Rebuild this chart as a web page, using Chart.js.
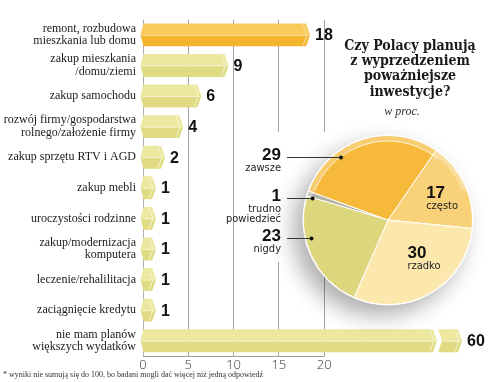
<!DOCTYPE html>
<html><head><meta charset="utf-8">
<script src="https://cdn.jsdelivr.net/npm/chart.js@4.4.0/dist/chart.umd.min.js"></script>
<style>
html,body{margin:0;padding:0;background:#fff;}
#wrap{position:relative;width:500px;height:382px;overflow:hidden;background:#fff;}
#bar{position:absolute;left:0;top:0;}
#pie{position:absolute;left:220px;top:0;}
</style></head><body>
<div id="wrap"><canvas id="bar" width="500" height="382"></canvas><canvas id="pie" width="280" height="382"></canvas></div>
<script>
// ---------- data ----------
const categories = [
  ['remont, rozbudowa','mieszkania lub domu'],
  ['zakup mieszkania','/domu/ziemi'],
  'zakup samochodu',
  ['rozwój firmy/gospodarstwa','rolnego/założenie firmy'],
  'zakup sprzętu RTV i AGD',
  'zakup mebli',
  'uroczystości rodzinne',
  ['zakup/modernizacja','komputera'],
  'leczenie/rehalilitacja',
  'zaciągnięcie kredytu',
  ['nie mam planów','większych wydatków']
];
const values = [18, 9, 6, 4, 2, 1, 1, 1, 1, 1, 60];
const xTickLabels = [0, 5, 10, 15, 20];
const footnote = '* wyniki nie sumują się do 100, bo badani mogli dać więcej niż jedną odpowiedź';

const pieNames = ['często', 'rzadko', 'nigdy', ['trudno','powiedzieć'], 'zawsze'];
const pieValues = [17, 30, 23, 1, 29];
const pieTitle = ['Czy Polacy planują', 'z wyprzedzeniem', 'poważniejsze', 'inwestycje?'];
const pieSubtitle = 'w proc.';

// ---------- styles ----------
const barPal = {
  hi: {top:'#f8ca5c', bottom:'#f4b52f', ridge:'#fbe0a2'},
  lo: {top:'#ece89f', bottom:'#e0db83', ridge:'#f6f3cf'}
};
const pieColors = ['#f9d178', '#fce8ad', '#dcd67d', '#b4b3a6', '#f6b93a'];
const outerLabels = { 2: 238, 3: 198, 4: 157 }; // leader line y (page px) for slices labelled outside
const SERIF = '"Liberation Serif", "DejaVu Serif", serif';
const SANS = '"Liberation Sans", Arial, sans-serif';

Chart.defaults.animation = false;
Chart.defaults.font.family = SANS;

function drawPrism(ctx, x0, x1, y, h, c, notch, cap) {
  const lx = notch ? x0 + cap : x0 - 3;
  ctx.beginPath(); ctx.moveTo(lx, y); ctx.lineTo(x0, y - h); ctx.lineTo(x1, y - h); ctx.lineTo(x1 + cap, y); ctx.closePath();
  ctx.fillStyle = c.top; ctx.fill();
  ctx.beginPath(); ctx.moveTo(lx, y); ctx.lineTo(x0, y + h); ctx.lineTo(x1, y + h); ctx.lineTo(x1 + cap, y); ctx.closePath();
  ctx.fillStyle = c.bottom; ctx.fill();
  ctx.strokeStyle = c.ridge; ctx.lineWidth = 1;
  ctx.beginPath(); ctx.moveTo(lx + 1, y + 0.5); ctx.lineTo(x1 + cap - 1, y + 0.5); ctx.stroke();
  ctx.beginPath(); ctx.moveTo(x1 - 3, y - h + 1); ctx.lineTo(x1 - 3 + cap, y); ctx.lineTo(x1 - 3, y + h - 1); ctx.stroke();
}

const prismPlugin = {
  id: 'prism',
  beforeDatasetsDraw(chart) {
    const ctx = chart.ctx, a = chart.chartArea, xs = chart.scales.x;
    ctx.save();
    ctx.strokeStyle = '#9d9d9d'; ctx.lineWidth = 1;
    ctx.beginPath();
    ctx.moveTo(xs.getPixelForValue(0), Math.round(a.bottom) + 0.5);
    ctx.lineTo(xs.getPixelForValue(xTickLabels[xTickLabels.length - 1]) + 0.5, Math.round(a.bottom) + 0.5);
    ctx.stroke();
    ctx.restore();
  },
  afterDatasetsDraw(chart) {
    const ctx = chart.ctx, a = chart.chartArea, meta = chart.getDatasetMeta(0);
    const cap = 4;
    ctx.save();
    meta.data.forEach((el, i) => {
      const p = el.getProps(['x', 'y', 'base', 'height'], true);
      const h = p.height / 2, y = p.y, x0 = p.base;
      const pal = i === 0 ? barPal.hi : barPal.lo;
      let x1 = p.x;
      if (x1 > a.right - cap) {
        const end = a.right - cap + 2;
        const segStart = end - 20;
        drawPrism(ctx, x0, segStart - 5, y, h, pal, false, cap);
        drawPrism(ctx, segStart, end, y, h, pal, true, cap);
        x1 = end;
      } else {
        drawPrism(ctx, x0, x1, y, h, pal, false, cap);
      }
      ctx.fillStyle = '#111';
      ctx.font = 'bold 16px ' + SANS;
      ctx.textAlign = 'left'; ctx.textBaseline = 'middle';
      ctx.fillText(String(values[i]), x1 + cap + 5, y + 1);
    });
    ctx.restore();
  },
  afterDraw(chart) {
    const ctx = chart.ctx;
    ctx.save();
    ctx.fillStyle = '#333';
    ctx.font = '8px ' + SERIF;
    ctx.textAlign = 'left'; ctx.textBaseline = 'middle';
    ctx.fillText(footnote, 3, 375);
    ctx.restore();
  }
};

new Chart(document.getElementById('bar'), {
  type: 'bar',
  data: { labels: categories, datasets: [{ data: values, backgroundColor: 'rgba(0,0,0,0)', borderWidth: 0, barPercentage: 0.75, categoryPercentage: 1 }] },
  options: {
    responsive: false, indexAxis: 'y',
    layout: { padding: { left: 0, right: 40, top: 9, bottom: 0 } },
    plugins: { legend: { display: false }, tooltip: { enabled: false } },
    scales: {
      x: {
        type: 'linear', min: 0, max: 35,
        afterFit: s => { s.height = 26; },
        border: { display: false },
        grid: {
          drawTicks: false, lineWidth: 1,
          color: c => {
            const v = c.tick ? c.tick.value : -1;
            if (v === 0) return '#b0b0b0';
            return xTickLabels.includes(v) ? '#a3a3a3' : 'rgba(0,0,0,0)';
          }
        },
        ticks: {
          stepSize: 5, autoSkip: false, padding: 1, color: '#333',
          font: { family: '"Open Sans", "DejaVu Sans", sans-serif', size: 13, weight: 300 },
          callback: v => xTickLabels.includes(v) ? String(v) : ''
        }
      },
      y: {
        afterFit: s => { s.width = 143; },
        border: { display: false },
        grid: { display: false, drawTicks: false },
        ticks: { padding: 7, color: '#1a1a1a', font: { family: SERIF, size: 12, lineHeight: 1.05 } }
      }
    }
  },
  plugins: [prismPlugin]
});

// ---------- pie ----------
const OX = 220; // canvas offset
const piePlugin = {
  id: 'pieDecor',
  beforeDraw(chart) {
    const ctx = chart.ctx;
    ctx.save(); ctx.fillStyle = '#fff'; ctx.fillRect(240 - OX, 132, 95, 130); ctx.restore();
  },
  beforeDatasetsDraw(chart) {
    const arc = chart.getDatasetMeta(0).data[0];
    const ctx = chart.ctx;
    ctx.save();
    ctx.shadowColor = 'rgba(0,0,0,0.32)'; ctx.shadowBlur = 22; ctx.shadowOffsetX = -9; ctx.shadowOffsetY = 10;
    ctx.fillStyle = '#fff';
    ctx.beginPath(); ctx.arc(arc.x, arc.y, arc.outerRadius + 1, 0, Math.PI * 2); ctx.fill();
    ctx.restore();
  },
  afterDatasetsDraw(chart) {
    const ctx = chart.ctx, meta = chart.getDatasetMeta(0);
    const a0 = meta.data[0], cx = a0.x, cy = a0.y, r = a0.outerRadius;
    ctx.save();
    // rim highlight on the upper part of the pie
    ctx.strokeStyle = 'rgba(255,255,255,0.28)'; ctx.lineWidth = 5;
    ctx.beginPath(); ctx.arc(cx, cy, r - 2.5, Math.PI * 1.08, Math.PI * 1.88); ctx.stroke();
    ctx.strokeStyle = 'rgba(255,255,255,0.85)'; ctx.lineWidth = 1;
    ctx.beginPath(); ctx.arc(cx, cy, r - 5.5, Math.PI * 1.12, Math.PI * 1.72); ctx.stroke();
    meta.data.forEach((arc, i) => {
      const names = [].concat(pieNames[i]);
      if (outerLabels[i] !== undefined) {
        const ly = outerLabels[i];
        const rr = r * 0.93;
        const dx = Math.sqrt(Math.max(rr * rr - (ly - cy) * (ly - cy), 0));
        const dotX = cx - dx;
        ctx.strokeStyle = '#333'; ctx.lineWidth = 1;
        ctx.beginPath(); ctx.moveTo(287 - OX, ly + 0.5); ctx.lineTo(dotX, ly + 0.5); ctx.stroke();
        ctx.fillStyle = '#111';
        ctx.beginPath(); ctx.arc(dotX, ly + 0.5, 2, 0, Math.PI * 2); ctx.fill();
        ctx.textAlign = 'right'; ctx.textBaseline = 'middle';
        ctx.font = 'bold 17px ' + SANS;
        ctx.fillText(String(pieValues[i]), 281 - OX, ly - 2);
        ctx.font = '11px "DejaVu Sans Condensed", "DejaVu Sans", sans-serif';
        ctx.fillStyle = '#222';
        names.forEach((n, k) => ctx.fillText(n, 281 - OX, ly + 11 + k * 10));
      } else {
        const mid = (arc.startAngle + arc.endAngle) / 2;
        const px = cx + Math.cos(mid) * r * 0.55 - 4;
        const py = cy + Math.sin(mid) * r * 0.55;
        ctx.textAlign = 'left'; ctx.textBaseline = 'middle';
        ctx.fillStyle = '#111';
        ctx.font = 'bold 17px ' + SANS;
        ctx.fillText(String(pieValues[i]), px, py - 7);
        ctx.fillStyle = '#222';
        ctx.font = '11px "DejaVu Sans Condensed", "DejaVu Sans", sans-serif';
        names.forEach((n, k) => ctx.fillText(n, px, py + 6 + k * 10));
      }
    });
    // title
    ctx.fillStyle = '#1a1a1a';
    ctx.textAlign = 'center'; ctx.textBaseline = 'middle';
    ctx.font = 'bold 14px "DejaVu Serif Condensed", "DejaVu Serif", serif';
    pieTitle.forEach((t, k) => ctx.fillText(t, 410 - OX, 46 + k * 15.3));
    ctx.font = 'italic 12px ' + SERIF;
    ctx.fillStyle = '#333';
    ctx.fillText(pieSubtitle, 402 - OX, 112);
    ctx.restore();
  }
};

new Chart(document.getElementById('pie'), {
  type: 'pie',
  data: { labels: pieNames.map(n => [].concat(n).join(' ')), datasets: [{ data: pieValues, backgroundColor: pieColors, borderColor: '#ffffff', borderWidth: 1 }] },
  options: {
    responsive: false, rotation: 34.5,
    layout: { padding: { left: 83, right: 27, top: 135, bottom: 77 } },
    plugins: { legend: { display: false }, tooltip: { enabled: false } }
  },
  plugins: [piePlugin]
});
</script>
</body></html>
